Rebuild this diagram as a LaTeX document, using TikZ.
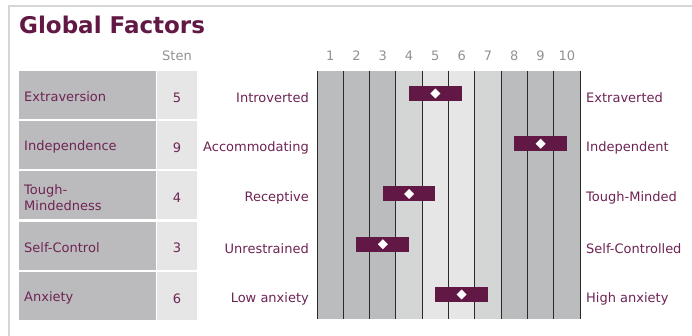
\documentclass[tikz,border=0pt]{standalone}
\usepackage{fontspec}
\setmainfont{DejaVu Sans}
\definecolor{maroon}{HTML}{621845}
\definecolor{txt}{HTML}{6E2454}
\definecolor{lblbg}{HTML}{BBBBBD}
\definecolor{stenbg}{HTML}{E6E6E6}
\definecolor{cdark}{HTML}{BBBCBE}
\definecolor{cmid}{HTML}{D4D5D5}
\definecolor{clight}{HTML}{E6E6E6}
\definecolor{numgray}{HTML}{929292}
\definecolor{framegray}{HTML}{D6D6D6}
\definecolor{gridline}{HTML}{2A2A2A}
\tikzset{
  rowtext/.style={inner sep=0pt, text=txt, font=\fontsize{13}{16}\selectfont},
  headtext/.style={inner sep=0pt, text=numgray, font=\fontsize{13}{16}\selectfont},
  titletext/.style={inner sep=0pt, text=maroon, font=\fontsize{23}{27}\selectfont\bfseries},
  scorebar/.style={fill=maroon},
  marker/.style={fill=white},
}
\begin{document}
\begin{tikzpicture}[x=1pt,y=-1pt]
\useasboundingbox (0,0) rectangle (692,336);
\fill[white] (0,0) rectangle (692,336);
\draw[framegray, line width=1.5pt] (9,336) -- (9,6) -- (692,6);
\node[titletext, anchor=base west] (title) at (19,34) {Global Factors};
\node[headtext] (stenhead) at (177,56) {Sten};
% columns
\foreach \k/\c in {1/cdark,2/cdark,3/cdark,4/cmid,5/clight,6/clight,7/cmid,8/cdark,9/cdark,10/cdark}{
  \fill[\c] ({317+(\k-1)*26.3},71) rectangle ({317+\k*26.3},319);
  \node[headtext] (num\k) at ({317+(\k-0.5)*26.3},56) {\k};
}
\foreach \k in {0,...,10}{
  \draw[gridline, line width=0.9pt] ({317+\k*26.3},71) -- ({317+\k*26.3},319);
}
% rows
\foreach \i/\name/\s/\lo/\hi in {
  1/Extraversion/5/Introverted/Extraverted,
  2/Independence/9/Accommodating/Independent,
  3/{Tough-\\Mindedness}/4/Receptive/Tough-Minded,
  4/Self-Control/3/Unrestrained/Self-Controlled,
  5/Anxiety/6/Low anxiety/High anxiety}{
  \pgfmathsetmacro{\rtop}{71+(\i-1)*50.25}
  \pgfmathsetmacro{\rmid}{\rtop+26.5}
  \fill[lblbg] (19,\rtop) rectangle (156,\rtop+48);
  \fill[stenbg] (157,\rtop) rectangle (197,\rtop+48);
  \node[rowtext, anchor=west, align=left] (lab\i) at (24,\rmid-0.5) {\name};
  \node[rowtext] (sten\i) at (177,\rmid) {\s};
  \node[rowtext, anchor=east] (lo\i) at (309,\rmid) {\lo};
  \node[rowtext, anchor=west] (hi\i) at (586,\rmid) {\hi};
  \pgfmathsetmacro{\xc}{317+(\s-0.5)*26.3}
  \fill[scorebar] (\xc-26.3,\rtop+15) rectangle (\xc+26.3,\rtop+30);
  \fill[marker] (\xc-5,\rtop+22.5) -- (\xc,\rtop+17.5) -- (\xc+5,\rtop+22.5) -- (\xc,\rtop+27.5) -- cycle;
}
\end{tikzpicture}
\end{document}
